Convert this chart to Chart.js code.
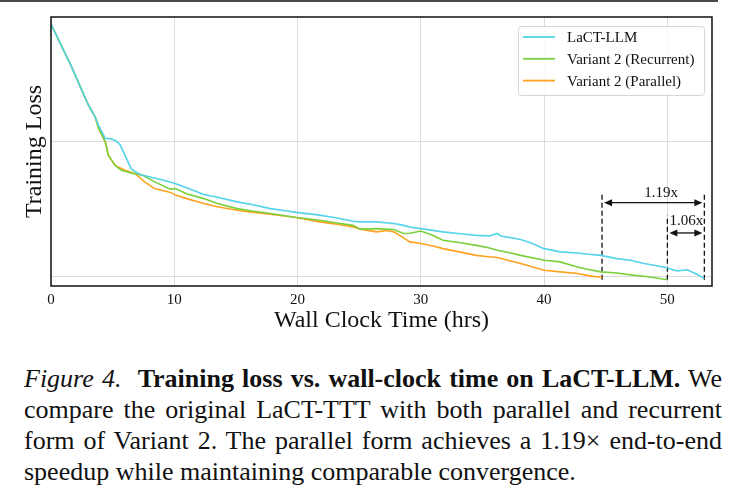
<!DOCTYPE html>
<html>
<head>
<meta charset="utf-8">
<script src="https://cdn.jsdelivr.net/npm/chart.js@4.4.1/dist/chart.umd.min.js"></script>
<style>
  body { margin: 0; background: #fff; width: 735px; height: 497px; overflow: hidden; position: relative; }
  #topRule { position: absolute; left: 0; top: 0; width: 718px; height: 2px; background: #4a4a4a; }
  #wrap { position: absolute; left: 0; top: 0; width: 735px; height: 340px; }
  #caption {
    position: absolute; left: 24px; top: 363px; width: 698px;
    font-family: "Liberation Serif", "Times New Roman", serif;
    font-size: 26px; line-height: 31px; color: #111; text-align: justify;
  }
</style>
</head>
<body>
<div id="topRule"></div>
<div id="wrap"><canvas id="lossChart" width="735" height="340"></canvas></div>
<div id="caption"><i>Figure 4.</i>&nbsp; <b>Training loss vs. wall-clock time on LaCT-LLM.</b> We compare the original LaCT-TTT with both parallel and recurrent form of Variant 2. The parallel form achieves a 1.19&times; end-to-end speedup while maintaining comparable convergence.</div>
<script>
// wall clock hours and training loss
const hoursLact = [0, 0.8, 1.6, 2.2, 3.0, 3.6, 3.85, 4.4, 4.8, 5.2, 5.6, 6.0, 6.5, 7.0, 7.4, 8.2, 9.0, 10.0, 11.0, 12.4,
  13.5, 15.1, 16.3, 17.8, 19.0, 19.9, 21.8, 23.2, 24.5, 25.1, 26.4, 27.8, 28.6, 29.1, 30.0, 31.8, 33.2, 34.5, 35.6, 36.2,
  36.5, 38.1, 39.0, 40.0, 41.3, 42.7, 43.6, 44.6, 45.9, 47.0, 48.1, 49.7, 50.8, 51.6, 52.4, 53.0];
const lossLact = [3.436, 3.36, 3.285, 3.222, 3.14, 3.09, 3.062, 3.013, 3.012, 3.006, 2.99, 2.951, 2.901, 2.885, 2.877, 2.868, 2.86, 2.847, 2.83, 2.805,
  2.795, 2.778, 2.768, 2.753, 2.745, 2.739, 2.729, 2.718, 2.706, 2.704, 2.704, 2.698, 2.691, 2.685, 2.679, 2.667, 2.66, 2.654, 2.652, 2.661,
  2.652, 2.639, 2.625, 2.605, 2.593, 2.589, 2.584, 2.580, 2.568, 2.562, 2.550, 2.537, 2.522, 2.527, 2.510, 2.494];

const hoursRec = [0, 0.8, 1.6, 2.2, 3.0, 3.6, 3.85, 4.4, 4.65, 5.2, 5.7, 6.5, 7.4, 8.5, 9.7, 10.1, 11.0, 12.4, 13.5, 15.1,
  16.3, 17.8, 19.9, 21.8, 23.2, 24.5, 25.1, 26.4, 27.8, 28.6, 29.1, 30.0, 30.9, 31.8, 33.2, 34.5, 35.5, 36.2, 37.2, 38.1,
  40.0, 41.3, 42.7, 43.6, 44.6, 45.9, 47.0, 48.1, 49.0, 50.0];
const lossRec = [3.436, 3.36, 3.285, 3.222, 3.14, 3.09, 3.051, 3.0, 2.951, 2.913, 2.895, 2.885, 2.877, 2.85, 2.825, 2.827, 2.808, 2.790, 2.772, 2.753,
  2.744, 2.735, 2.720, 2.710, 2.700, 2.691, 2.677, 2.679, 2.676, 2.661, 2.662, 2.670, 2.655, 2.636, 2.627, 2.617, 2.608, 2.599, 2.590, 2.580,
  2.562, 2.556, 2.537, 2.528, 2.519, 2.515, 2.508, 2.503, 2.497, 2.490];

const hoursPar = [0, 0.8, 1.6, 2.2, 3.0, 3.6, 3.85, 4.4, 4.65, 5.2, 6.0, 6.8, 7.6, 8.4, 9.7, 10.1, 11.0, 12.4, 13.5, 15.1,
  16.3, 17.8, 19.9, 21.8, 23.2, 24.5, 25.1, 26.4, 27.2, 27.8, 28.6, 29.1, 30.0, 31.0, 31.8, 33.2, 34.5, 35.3, 36.2, 37.2,
  38.1, 40.0, 41.3, 42.7, 43.6, 44.7];
const lossPar = [3.436, 3.36, 3.285, 3.222, 3.14, 3.09, 3.051, 3.0, 2.951, 2.913, 2.895, 2.883, 2.852, 2.827, 2.813, 2.803, 2.790, 2.772, 2.760, 2.747,
  2.740, 2.732, 2.720, 2.704, 2.695, 2.685, 2.677, 2.667, 2.672, 2.667, 2.645, 2.630, 2.624, 2.615, 2.605, 2.592, 2.580, 2.576, 2.572, 2.560,
  2.550, 2.525, 2.519, 2.513, 2.505, 2.498];

const seriesNames = ['LaCT-LLM', 'Variant 2 (Recurrent)', 'Variant 2 (Parallel)'];
const seriesColors = ['#54d3e9', '#7ccf3c', '#ffa21f'];

const xTicks = [0, 10, 20, 30, 40, 50];
const yGrid = [2.5, 3.0];

// end times of each run, dashed markers and the speedup arrows
const finishHours = [44.7, 50.0, 53.0];
const markerTop = [2.809, 2.728, 2.809];
const markerBottom = 2.49;
const speedups = [
  { label: '1.19x', from: 44.7, to: 53.0, y: 2.775, textX: 49.5, textY: 2.811 },
  { label: '1.06x', from: 50.0, to: 53.0, y: 2.663, textX: 51.55, textY: 2.707 }
];

const serif = '"Liberation Serif", "Times New Roman", serif';

function pts(xs, ys) { return xs.map((x, i) => ({ x: x, y: ys[i] })); }

const datasets = [
  { label: seriesNames[0], data: pts(hoursLact, lossLact), borderColor: seriesColors[0] },
  { label: seriesNames[1], data: pts(hoursRec, lossRec), borderColor: seriesColors[1] },
  { label: seriesNames[2], data: pts(hoursPar, lossPar), borderColor: seriesColors[2] }
].map(d => Object.assign(d, { showLine: true, pointRadius: 0, borderWidth: 1.6, tension: 0, fill: false }));

finishHours.forEach((h, i) => {
  datasets.push({
    label: 'marker' + i,
    data: [{ x: h, y: markerBottom }, { x: h, y: markerTop[i] }],
    showLine: true, pointRadius: 0, borderColor: '#111', borderWidth: 1.3, borderDash: [5, 3]
  });
});

const framePlugin = {
  id: 'frame',
  afterDraw(chart) {
    const { ctx, chartArea: a, scales } = chart;
    const xs = scales.x, ys = scales.y;
    ctx.save();
    // arrows
    ctx.strokeStyle = '#111'; ctx.fillStyle = '#111'; ctx.lineWidth = 1.3;
    speedups.forEach(s => {
      const x1 = xs.getPixelForValue(s.from) + 2, x2 = xs.getPixelForValue(s.to) - 2;
      const y = ys.getPixelForValue(s.y);
      ctx.beginPath(); ctx.moveTo(x1 + 4, y); ctx.lineTo(x2 - 4, y); ctx.stroke();
      ctx.beginPath(); ctx.moveTo(x1, y); ctx.lineTo(x1 + 8, y - 3.5); ctx.lineTo(x1 + 8, y + 3.5); ctx.closePath(); ctx.fill();
      ctx.beginPath(); ctx.moveTo(x2, y); ctx.lineTo(x2 - 8, y - 3.5); ctx.lineTo(x2 - 8, y + 3.5); ctx.closePath(); ctx.fill();
      ctx.font = '15px ' + serif; ctx.textAlign = 'center'; ctx.textBaseline = 'middle';
      ctx.fillText(s.label, xs.getPixelForValue(s.textX), ys.getPixelForValue(s.textY));
    });
    // legend box
    const bx = a.right - 194, by = a.top + 9, bw = 186, bh = 69;
    ctx.fillStyle = 'rgba(255,255,255,0.85)';
    ctx.strokeStyle = '#d6d6d6'; ctx.lineWidth = 1;
    ctx.beginPath(); ctx.roundRect(bx + 0.5, by + 0.5, bw, bh, 3); ctx.fill(); ctx.stroke();
    ctx.font = '15px ' + serif; ctx.textAlign = 'left'; ctx.textBaseline = 'middle';
    seriesNames.forEach((name, i) => {
      const y = by + 11 + i * 21.8;
      ctx.strokeStyle = seriesColors[i]; ctx.lineWidth = 1.8;
      ctx.beginPath(); ctx.moveTo(bx + 5, y); ctx.lineTo(bx + 37, y); ctx.stroke();
      ctx.fillStyle = '#111';
      ctx.fillText(name, bx + 49, y + 1);
    });
    // black frame around the plot
    ctx.strokeStyle = '#111'; ctx.lineWidth = 1.5;
    ctx.strokeRect(a.left, a.top, a.right - a.left, a.bottom - a.top);
    ctx.restore();
  }
};

new Chart(document.getElementById('lossChart').getContext('2d'), {
  type: 'scatter',
  data: { datasets: datasets },
  options: {
    responsive: false,
    animation: false,
    devicePixelRatio: 1,
    layout: { padding: { top: 17, right: 23, left: 0, bottom: 0 } },
    plugins: { legend: { display: false }, tooltip: { enabled: false } },
    scales: {
      x: {
        type: 'linear', min: 0, max: 53.62,
        afterBuildTicks: s => { s.ticks = xTicks.map(v => ({ value: v })); },
        afterFit: s => { s.height = 54; },
        grid: { color: '#dcdcdc', lineWidth: 1, drawTicks: false },
        border: { display: false },
        ticks: { color: '#111', padding: 5, font: { family: serif, size: 15 } },
        title: { display: true, text: 'Wall Clock Time (hrs)', color: '#111', font: { family: serif, size: 24 }, padding: { top: 0, bottom: 5 } }
      },
      y: {
        type: 'linear', min: 2.4667, max: 3.462,
        afterBuildTicks: s => { s.ticks = yGrid.map(v => ({ value: v })); },
        afterFit: s => { s.width = 51; },
        grid: { color: '#dcdcdc', lineWidth: 1, drawTicks: false },
        border: { display: false },
        ticks: { display: false },
        title: { display: true, text: 'Training Loss', color: '#111', font: { family: serif, size: 24 }, padding: { top: 20, bottom: 0 } }
      }
    }
  },
  plugins: [framePlugin]
});
</script>
</body>
</html>
